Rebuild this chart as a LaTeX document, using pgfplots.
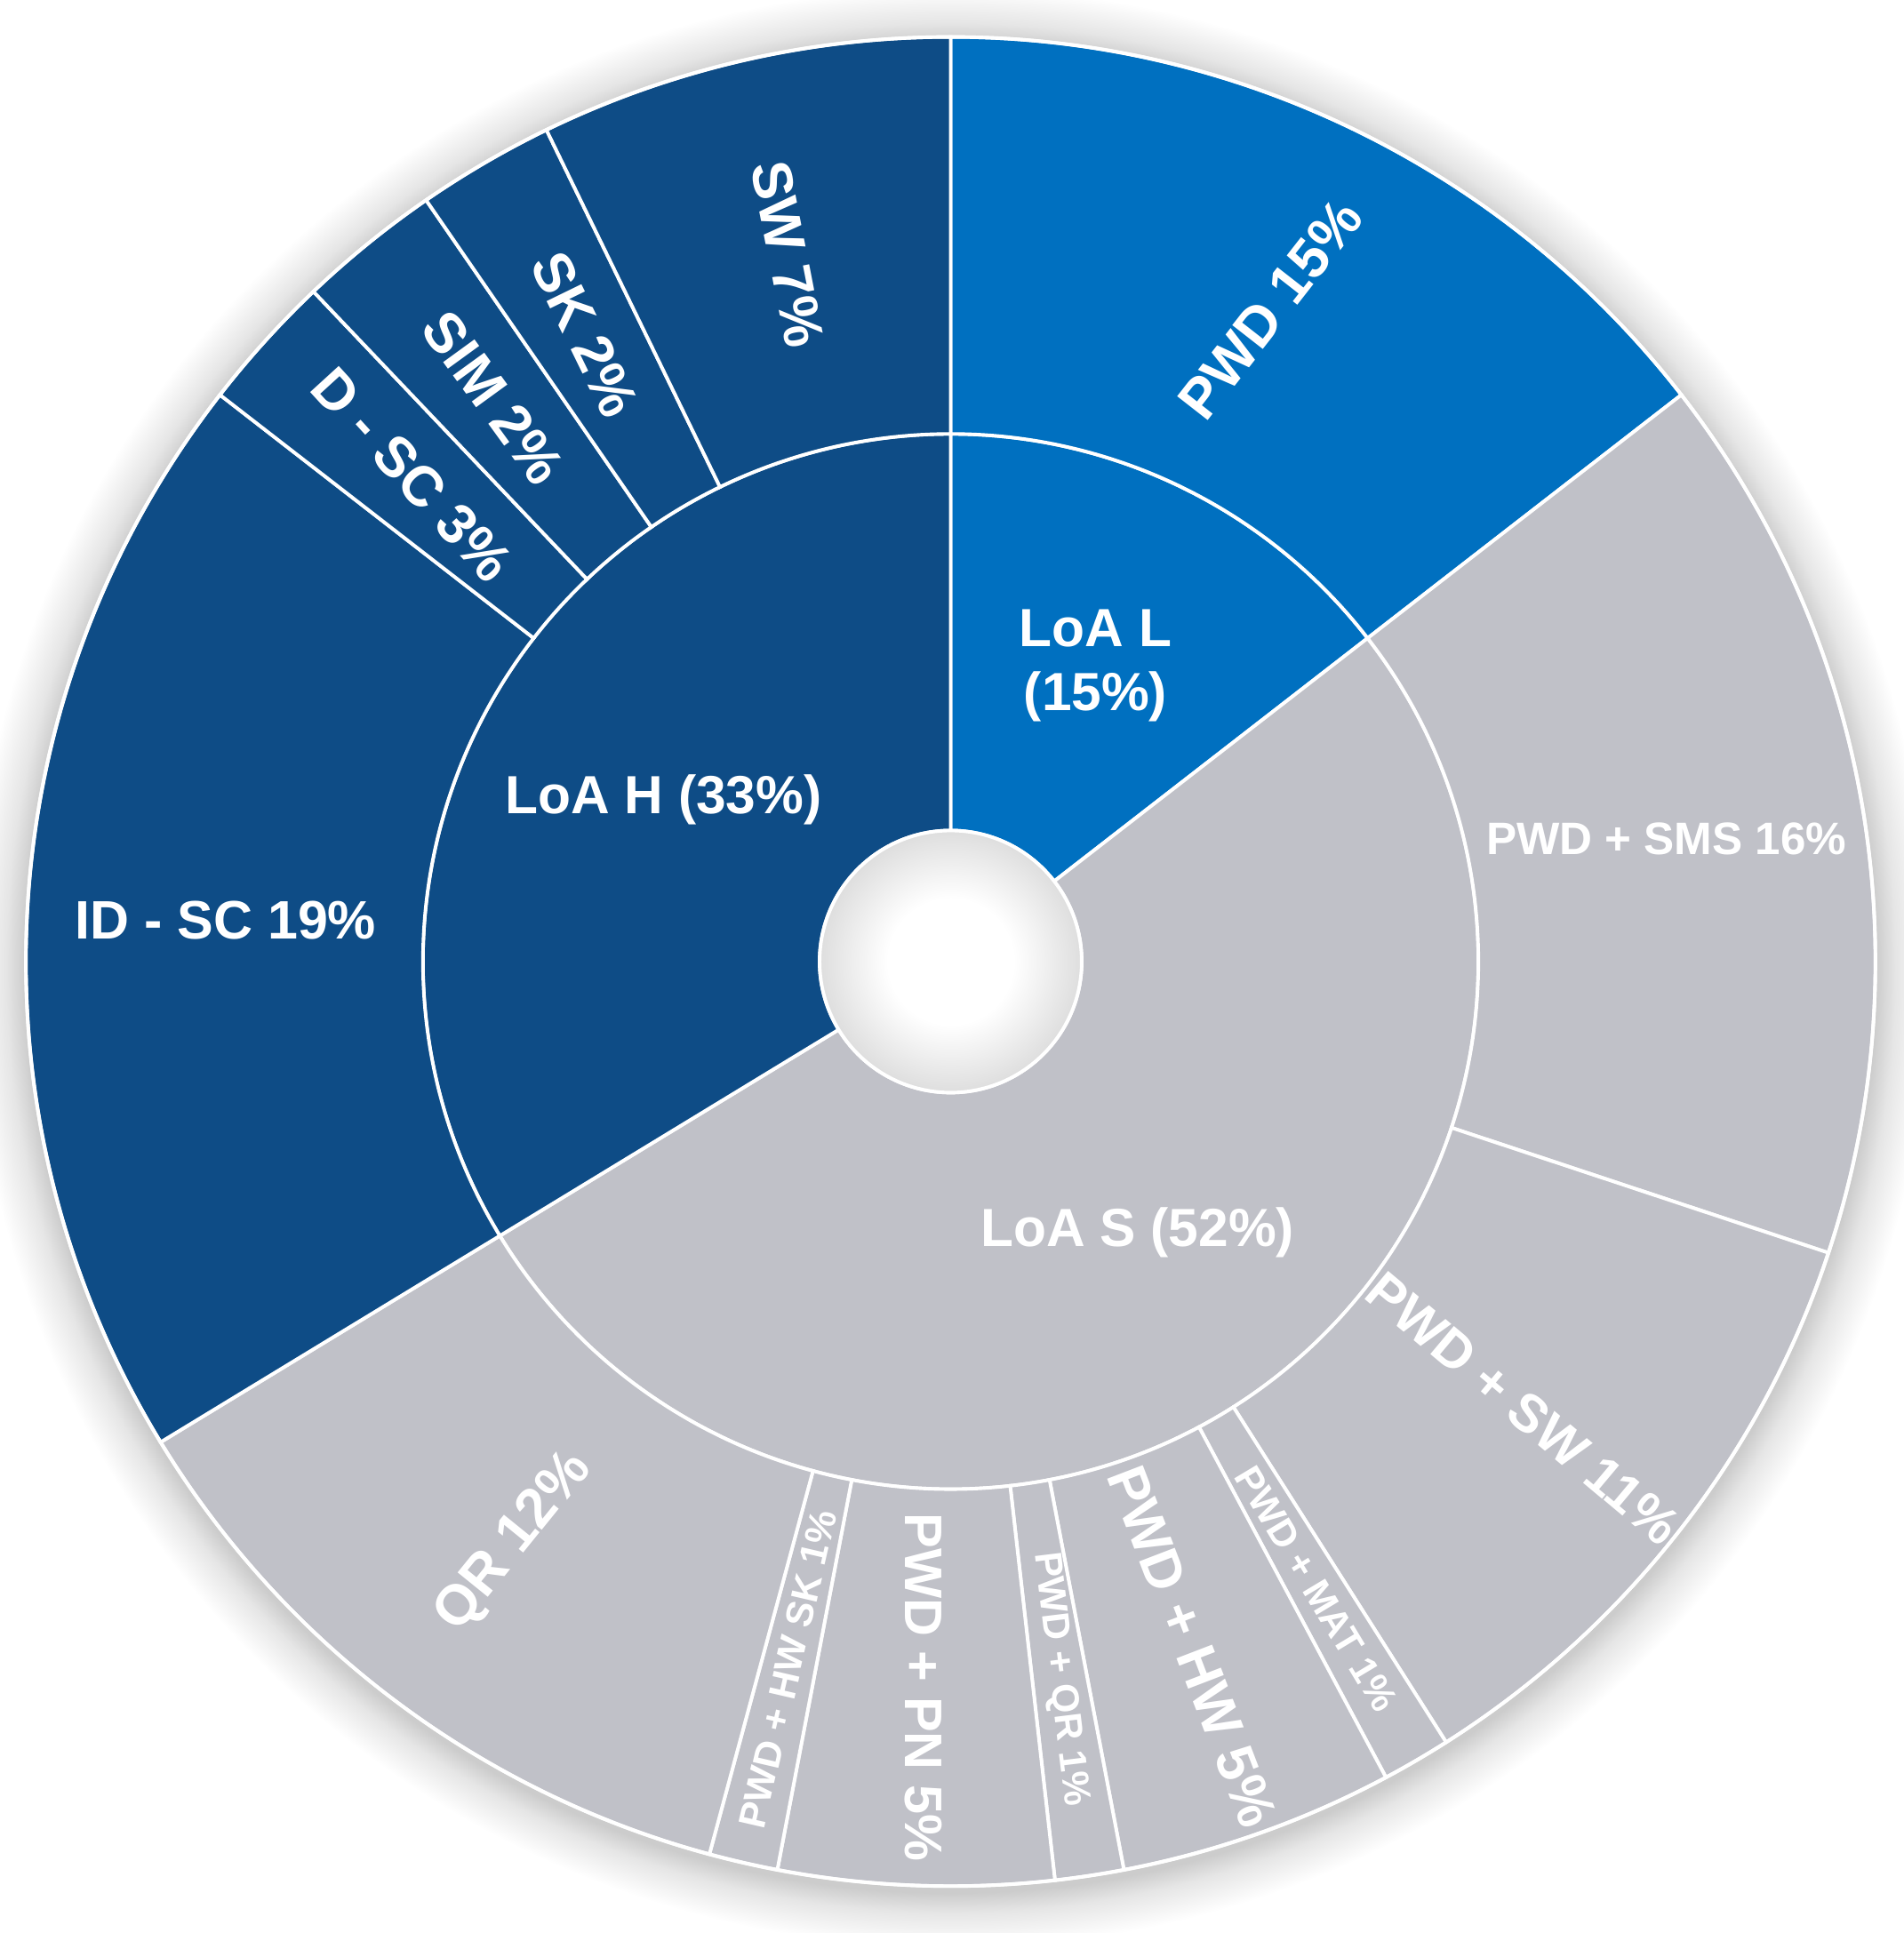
\documentclass[border=0pt]{standalone}
\usepackage{fontspec}
\setmainfont{Liberation Sans}
\usepackage{pgfplots}
\usepackage{pgfplotstable}
\pgfplotsset{compat=1.18}

\definecolor{cL}{HTML}{0070C0}
\definecolor{cS}{HTML}{C0C1C8}
\definecolor{cH}{HTML}{0E4C86}

% soft halo round the ring, and the grey hollow in the middle
\pgfdeclareradialshading{glow}{\pgfpointorigin}{color(0bp)=(black!20); color(23.6bp)=(black!20); color(24.1bp)=(black!10); color(25bp)=(white); color(50bp)=(white)}
\pgfdeclareradialshading{hole}{\pgfpointorigin}{color(0bp)=(white); color(12bp)=(white); color(25bp)=(black!13); color(50bp)=(black!13)}

% ring 0 = LoA level, ring 1 = method level; start/share in percent, clockwise from 12 o'clock
\pgfplotstableread[col sep=comma]{
ring,start,share,fill,size,rot,label
0,0,14.5,cL,12.4,0,{LoA L\\(15\%)}
0,14.5,51.8,cS,12.4,0,{LoA S (52\%)}
0,66.3,33.7,cH,12.4,0,{LoA H (33\%)}
1,0,14.5,cL,13,52,{PWD 15\%}
1,14.5,15.6,cS,10.5,0,{PWD + SMS 16\%}
1,30.1,10.9,cS,12.3,-40,{PWD + SW 11\%}
1,41.0,1.2,cS,8.8,-59,{PWD + MAT 1\%}
1,42.2,4.8,cS,12.8,-69,{PWD + HW 5\%}
1,47.0,1.2,cS,8.8,-83,{PWD + QR 1\%}
1,48.2,4.8,cS,12.2,-90,{PWD + PN 5\%}
1,53.0,1.2,cS,8.8,77,{PWD + HW SK 1\%}
1,54.2,12.1,cS,13,51,{QR 12\%}
1,66.3,19.2,cH,12.5,0,{ID - SC 19\%}
1,85.5,2.4,cH,13,-47.6,{D - SC 3\%}
1,87.9,2.5,cH,13,-54,{SIM 2\%}
1,90.4,2.4,cH,13,-64,{SK 2\%}
1,92.8,7.2,cH,13,-79,{SW 7\%}
}\segs

\begin{document}
\begin{tikzpicture}
\begin{axis}[
  hide axis,
  x=1cm, y=1cm,
  xmin=-7.71, xmax=7.73,
  ymin=-7.88, ymax=7.80,
  enlargelimits=false,
  clip=false,
]
\coordinate (O) at (axis cs:0,0);
\shade[overlay, shading=glow] ([yshift=-0.5mm]O) circle[radius=7.95cm];

\pgfplotstablegetrowsof{\segs}
\pgfmathtruncatemacro\nseg{\pgfplotsretval-1}
\pgfplotsinvokeforeach{0,...,\nseg}{%
  \pgfplotstablegetelem{#1}{ring}\of\segs \let\pR\pgfplotsretval
  \pgfplotstablegetelem{#1}{start}\of\segs \let\pS\pgfplotsretval
  \pgfplotstablegetelem{#1}{share}\of\segs \let\pW\pgfplotsretval
  \pgfplotstablegetelem{#1}{fill}\of\segs \let\pF\pgfplotsretval
  \pgfplotstablegetelem{#1}{size}\of\segs \let\pZ\pgfplotsretval
  \pgfplotstablegetelem{#1}{rot}\of\segs \let\pT\pgfplotsretval
  \pgfplotstablegetelem{#1}{label}\of\segs \let\pL\pgfplotsretval
  \ifnum\pR=0 \def\rA{1.063}\def\rB{4.28}\else\def\rA{4.28}\def\rB{7.5}\fi
  \pgfmathsetmacro\aA{90-3.6*\pS}%
  \pgfmathsetmacro\aB{90-3.6*(\pS+\pW)}%
  \pgfmathsetmacro\aM{(\aA+\aB)/2}%
  \pgfmathsetmacro\rM{(\rA+\rB)/2}%
  \pgfmathsetmacro\bs{1.2*\pZ}%
  \edef\doit{%
    \noexpand\fill[\pF, draw=white, line width=0.8pt]
      ([shift={(\aA:\rA cm)}]O) -- ([shift={(\aA:\rB cm)}]O)
      arc[start angle=\aA, end angle=\aB, radius=\rB cm]
      -- ([shift={(\aB:\rA cm)}]O)
      arc[start angle=\aB, end angle=\aA, radius=\rA cm] -- cycle;
    \noexpand\node[text=white, inner sep=0pt, align=center, rotate=\pT,
      font=\noexpand\bfseries\noexpand\fontsize{\pZ}{\bs}\noexpand\selectfont]
      at ([shift={(\aM:\rM cm)}]O) {\unexpanded\expandafter{\pL}};
  }\doit
}

\shadedraw[shading=hole, draw=white, line width=0.8pt] (O) circle[radius=1.063cm];
\draw[white, line width=0.8pt] (O) circle[radius=7.5cm];
\end{axis}
\pgfresetboundingbox
\path ([shift={(-7.71cm,-7.88cm)}]O) rectangle ([shift={(7.73cm,7.80cm)}]O);
\end{tikzpicture}
\end{document}
